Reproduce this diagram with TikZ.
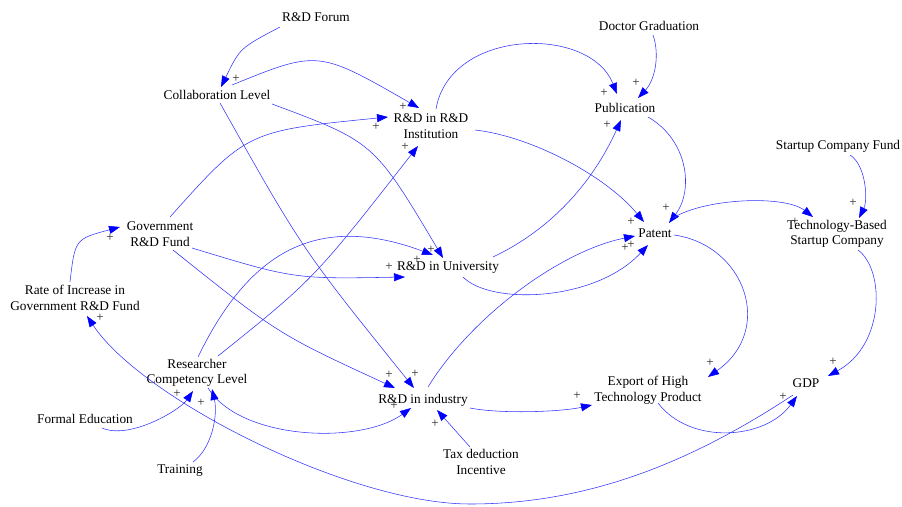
\documentclass[tikz,border=0pt]{standalone}
\usepackage{fontspec}
\setmainfont{Liberation Serif}
\usetikzlibrary{arrows.meta,calc}
\begin{document}
\begin{tikzpicture}[x=1pt,y=-1pt,
  lab/.style={font=\fontsize{13.3}{15.5}\selectfont, align=center, inner sep=0pt, text=black},
  pl/.style={font=\fontsize{13}{13}\selectfont, inner sep=0pt, text=black!85},
  arr/.style={draw=blue!80, line width=0.55pt, -{Triangle[length=11pt,width=8pt,fill=blue,color=blue]}}]
\useasboundingbox (0,0) rectangle (902,506);
% nodes
\node[lab] (forum) at (316,17) {R\&D Forum};
\node[lab] (col) at (217,95) {Collaboration Level};
\node[lab] (inst) at (431,126) {R\&D in R\&D\\Institution};
\node[lab] (doc) at (649,26) {Doctor Graduation};
\node[lab] (pub) at (625,108) {Publication};
\node[lab] (fund) at (838,146) {Startup Company Fund};
\node[lab] (tbs) at (837,234) {Technology-Based\\Startup Company};
\node[lab] (pat) at (655,233) {Patent};
\node[lab] (gov) at (160,234) {Government\\R\&D Fund};
\node[lab] (uni) at (448,268) {R\&D in University};
\node[lab] (rate) at (75,298) {Rate of Increase in\\Government R\&D Fund};
\node[lab] (res) at (197,373) {Researcher\\Competency Level};
\node[lab] (fe) at (85,419) {Formal Education};
\node[lab] (tr) at (180,471) {Training};
\node[lab] (ind) at (423,400) {R\&D in industry};
\node[lab] (tax) at (481,462) {Tax deduction\\Incentive};
\node[lab] (exp) at (648,390) {Export of High\\Technology Product};
\node[lab] (gdp) at (806,383) {GDP};
\coordinate (bot) at (470,504);
% connectors
\draw[arr] ($(forum)+(-36,10)$) .. controls (240,48) .. ($(col)+(4,-8)$);
\draw[arr] ($(col)+(15,-10)$) .. controls (318,50) .. ($(inst)+(-12,-18)$);
\draw[arr] ($(col)+(3,8)$) .. controls (302,249) .. ($(ind)+(-9,-12)$);
\draw[arr] ($(col)+(55,9)$) .. controls (374,142) .. ($(uni)+(-5,-10)$);
\draw[arr] ($(gov)+(10,-17)$) .. controls (247,131) .. ($(inst)+(-43,-9)$);
\draw[arr] ($(gov)+(32,14)$) .. controls (294,279) .. ($(uni)+(-43,9)$);
\draw[arr] ($(gov)+(13,16)$) .. controls (278,334) .. ($(ind)+(-28,-12)$);
\draw[arr] ($(rate)+(-5,-16)$) .. controls (75,239) .. ($(gov)+(-40,-7)$);
\draw[arr] ($(gdp)+(-13,12)$) .. controls (693,461) and (590,504) .. (bot) .. controls (350,504) and (142,399) .. ($(rate)+(12,18)$);
\draw[arr] ($(res)+(21,-17)$) .. controls (314,279) .. ($(inst)+(-13,20)$);
\draw[arr] ($(res)+(1,-16)$) .. controls (248,254) and (315,211) .. ($(uni)+(-15,-13)$);
\draw[arr] ($(res)+(11,15)$) .. controls (240,440) and (360,445) .. ($(ind)+(-12,8)$);
\draw[arr] ($(fe)+(17,9)$) .. controls (130,440) and (180,410) .. ($(res)+(-4,18)$);
\draw[arr] ($(tr)+(13,-9)$) .. controls (212,448) and (218,415) .. ($(res)+(15,16)$);
\draw[arr] ($(tax)+(-11,-15)$) -- ($(ind)+(14,10)$);
\draw[arr] ($(ind)+(47,8)$) .. controls (500,414) and (560,412) .. ($(exp)+(-56,15)$);
\draw[arr] ($(ind)+(5,-13)$) .. controls (471,317) and (560,251) .. ($(pat)+(-20,3)$);
\draw[arr] ($(uni)+(15,9)$) .. controls (490,305) and (595,302) .. ($(pat)+(-7,12)$);
\draw[arr] ($(uni)+(45,-11)$) .. controls (550,230) and (592,184) .. ($(pub)+(-4,12)$);
\draw[arr] ($(inst)+(5,-17)$) .. controls (450,28) and (590,25) .. ($(pub)+(-8,-14)$);
\draw[arr] ($(inst)+(44,4)$) .. controls (530,136) and (605,175) .. ($(pat)+(-11,-11)$);
\draw[arr] ($(doc)+(4,9)$) .. controls (660,55) and (655,80) .. ($(pub)+(13,-10)$);
\draw[arr] ($(pub)+(23,9)$) .. controls (688,140) and (694,190) .. ($(pat)+(14,-10)$);
\draw[arr] ($(pat)+(18,-15)$) .. controls (705,198) and (785,195) .. ($(tbs)+(-24,-17)$);
\draw[arr] ($(fund)+(12,9)$) .. controls (866,165) and (868,200) .. ($(tbs)+(22,-16)$);
\draw[arr] ($(tbs)+(21,16)$) .. controls (885,270) and (885,345) .. ($(gdp)+(22,-7)$);
\draw[arr] ($(pat)+(19,2)$) .. controls (745,245) and (775,330) .. ($(exp)+(60,-13)$);
\draw[arr] ($(exp)+(10,13)$) .. controls (690,445) and (765,440) .. ($(gdp)+(-9,13)$);
% polarity signs
\node[pl] (p1) at (236,79) {+};
\node[pl] (p2) at (403,107) {+};
\node[pl] (p3) at (415,374) {+};
\node[pl] (p4) at (431,250) {+};
\node[pl] (p5) at (376,127) {+};
\node[pl] (p6) at (389,267) {+};
\node[pl] (p7) at (389,375) {+};
\node[pl] (p8) at (110,238) {+};
\node[pl] (p9) at (100,318) {+};
\node[pl] (p10) at (405,147) {+};
\node[pl] (p11) at (417,260) {+};
\node[pl] (p12) at (394,406) {+};
\node[pl] (p13) at (177,394) {+};
\node[pl] (p14) at (201,403) {+};
\node[pl] (p15) at (435,424) {+};
\node[pl] (p16) at (577,396) {+};
\node[pl] (p17) at (625,248) {+};
\node[pl] (p18) at (631,245) {+};
\node[pl] (p19) at (607,125) {+};
\node[pl] (p20) at (604,93) {+};
\node[pl] (p21) at (631,222) {+};
\node[pl] (p22) at (636,83) {+};
\node[pl] (p23) at (666,208) {+};
\node[pl] (p24) at (795,222) {+};
\node[pl] (p25) at (853,203) {+};
\node[pl] (p26) at (833,362) {+};
\node[pl] (p27) at (710,363) {+};
\node[pl] (p28) at (783,397) {+};
\end{tikzpicture}
\end{document}
